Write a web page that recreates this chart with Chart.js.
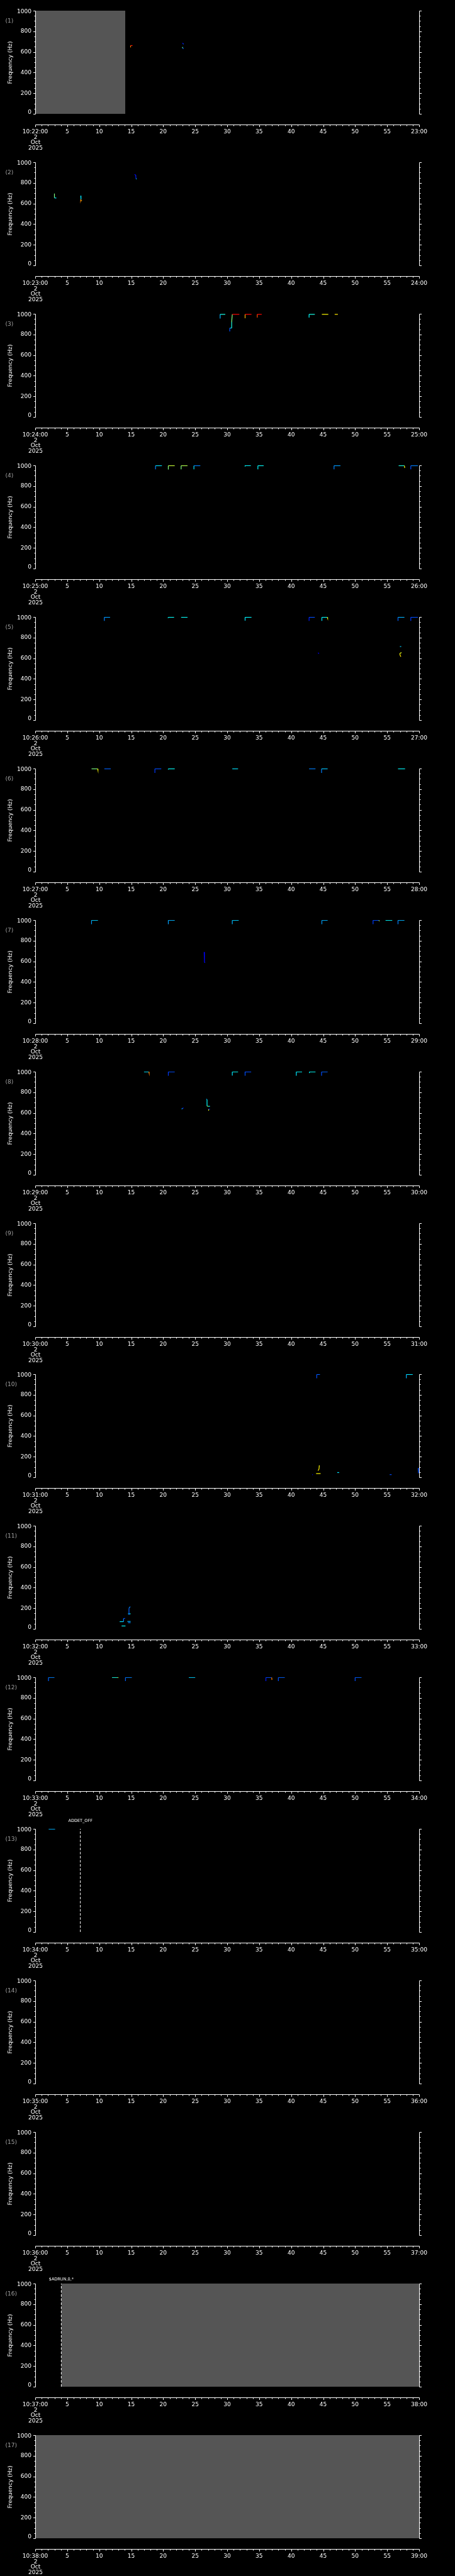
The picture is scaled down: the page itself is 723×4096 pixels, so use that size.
<!DOCTYPE html>
<html lang="en">
  <head>
    <meta charset="UTF-8" />
    <title>Frequency tracks, 2 Oct 2025</title>
  </head>
  <style>
    * {
      margin: 0;
      padding: 0;
    }
    body {
      background: #000;
      width: 723px;
      height: 4096px;
      overflow: hidden;
    }
    #panels {
      position: relative;
      width: 723px;
      height: 4096px;
    }
    #panels canvas {
      position: absolute;
      left: 0;
    }
  </style>
  <body>
    <div id="panels"></div>

    <script src="https://cdn.jsdelivr.net/npm/chart.js"></script>

    <script>
      // data block: one panel per minute, x in seconds, y in Hz
      const panelMinutes = [22, 23, 24, 25, 26, 27, 28, 29, 30, 31, 32, 33, 34, 35, 36, 37, 38];
      const yTicks = [0, 200, 400, 600, 800, 1000];
      const xTickSeconds = [0, 5, 10, 15, 20, 25, 30, 35, 40, 45, 50, 55, 60];
      const dateLines = ["2", "Oct", "2025"];

      // no-data spans: [panel index, from s, to s]
      const noData = [
        [0, 0, 14.08],
        [15, 4.07, 60],
        [16, 0, 60]
      ];
      // event markers: [panel index, s, text]
      const events = [
        [12, 7.05, "ADDET_OFF"],
        [15, 4.07, "$ADRUN,0,*"]
      ];

      // tracks: lists of [s, Hz, level 0..1]
      const tracks01 = [
        [[14.9, 644, 0.8], [14.9, 662, 0.75], [15.2, 662, 0.85]],
        [[23.0, 687, 0.15], [23.1, 680, 0.12], [23.2, 676, 0.2]],
        [[23.0, 648, 0.5], [23.05, 636, 0.45], [23.2, 632, 0.2]]
      ];
      const tracks02 = [
        [[3.0, 696, 0.55], [3.0, 655, 0.5], [3.3, 653, 0.35]],
        [[7.1, 676, 0.15], [7.15, 640, 0.35], [7.1, 628, 0.75], [7.3, 628, 0.7]],
        [[15.5, 880, 0.12], [15.7, 878, 0.12], [15.75, 840, 0.15], [15.85, 838, 0.35]]
      ];
      const tracks03 = [
        [[28.9, 955, 0.2], [28.9, 995, 0.3], [29.7, 995, 0.4]],
        [[30.4, 830, 0.15], [30.4, 862, 0.2], [30.7, 862, 0.3], [30.7, 920, 0.4], [30.8, 995, 0.5], [31.9, 995, 0.87]],
        [[32.8, 957, 0.65], [32.8, 995, 0.7], [33.8, 995, 0.87]],
        [[34.7, 963, 0.75], [34.7, 995, 0.8], [35.4, 995, 0.87]],
        [[42.8, 963, 0.35], [42.8, 995, 0.37], [43.7, 995, 0.4]],
        [[44.8, 995, 0.63], [45.8, 995, 0.63]],
        [[46.8, 995, 0.65], [47.3, 995, 0.65]]
      ];
      const tracks04 = [
        [[18.8, 962, 0.22], [18.8, 997, 0.25], [19.8, 997, 0.35]],
        [[20.8, 960, 0.4], [20.8, 997, 0.5], [21.8, 997, 0.57]],
        [[22.8, 962, 0.35], [22.8, 997, 0.5], [23.8, 997, 0.55]],
        [[24.8, 962, 0.3], [24.8, 997, 0.35], [25.8, 997, 0.25]],
        [[32.8, 990, 0.35], [32.8, 997, 0.37], [33.7, 997, 0.37]],
        [[34.8, 962, 0.3], [34.8, 997, 0.37], [35.7, 997, 0.38]],
        [[46.7, 962, 0.22], [46.7, 997, 0.25], [47.7, 997, 0.28]],
        [[56.8, 997, 0.35], [57.7, 997, 0.4], [57.75, 975, 0.63]],
        [[58.7, 962, 0.15], [58.7, 997, 0.2], [59.8, 997, 0.25]]
      ];
      const tracks05 = [
        [[10.8, 962, 0.22], [10.8, 997, 0.25], [11.7, 997, 0.28]],
        [[20.75, 990, 0.35], [20.8, 997, 0.37], [21.7, 997, 0.38]],
        [[22.8, 997, 0.37], [23.8, 997, 0.38]],
        [[32.8, 964, 0.3], [32.8, 997, 0.35], [33.8, 997, 0.37]],
        [[42.8, 962, 0.12], [42.8, 997, 0.15], [43.7, 997, 0.2]],
        [[44.8, 962, 0.25], [44.8, 997, 0.35], [45.65, 997, 0.38], [45.7, 987, 0.63]],
        [[56.7, 962, 0.18], [56.7, 997, 0.22], [57.7, 997, 0.3]],
        [[58.7, 962, 0.15], [58.7, 997, 0.18], [59.8, 997, 0.2]],
        [[57.0, 713, 0.3], [57.2, 713, 0.33]],
        [[44.2, 652, 0.1], [44.35, 645, 0.12]],
        [[57.25, 655, 0.45], [57.0, 648, 0.6], [57.0, 632, 0.63], [57.15, 614, 0.65]]
      ];
      const tracks06 = [
        [[8.8, 997, 0.4], [9.75, 997, 0.5], [9.8, 983, 0.63]],
        [[10.8, 997, 0.2], [11.8, 997, 0.22]],
        [[18.7, 957, 0.15], [18.7, 997, 0.18], [19.7, 997, 0.2]],
        [[20.8, 990, 0.35], [20.8, 997, 0.37], [21.8, 997, 0.38]],
        [[30.8, 997, 0.3], [31.7, 997, 0.35]],
        [[42.8, 997, 0.2], [43.8, 997, 0.25]],
        [[44.75, 957, 0.2], [44.75, 997, 0.25], [45.7, 997, 0.32]],
        [[56.7, 997, 0.35], [57.8, 997, 0.37]]
      ];
      const tracks07 = [
        [[8.8, 960, 0.2], [8.8, 998, 0.28], [9.8, 998, 0.33]],
        [[20.8, 960, 0.2], [20.8, 998, 0.28], [21.8, 998, 0.3]],
        [[30.8, 960, 0.2], [30.8, 998, 0.3], [31.8, 998, 0.33]],
        [[44.8, 960, 0.2], [44.8, 998, 0.28], [45.7, 998, 0.3]],
        [[52.8, 960, 0.15], [52.8, 998, 0.18], [53.7, 998, 0.2], [53.8, 990, 0.55]],
        [[54.75, 998, 0.37], [55.8, 998, 0.37]],
        [[56.7, 960, 0.18], [56.7, 998, 0.25], [57.7, 998, 0.3]],
        [[26.4, 690, 0.12], [26.45, 590, 0.12], [26.55, 588, 0.15]]
      ];
      const tracks08 = [
        [[17.0, 998, 0.3], [17.75, 998, 0.35], [17.8, 985, 0.75]],
        [[20.8, 960, 0.15], [20.8, 998, 0.18], [21.8, 998, 0.2]],
        [[30.8, 962, 0.2], [30.8, 998, 0.35], [31.7, 998, 0.38]],
        [[32.8, 960, 0.15], [32.8, 998, 0.2], [33.75, 998, 0.2]],
        [[40.8, 960, 0.3], [40.8, 998, 0.35], [41.7, 998, 0.37]],
        [[42.8, 990, 0.35], [42.85, 998, 0.37], [43.8, 998, 0.38]],
        [[44.75, 960, 0.15], [44.75, 998, 0.2], [45.7, 998, 0.22]],
        [[26.75, 735, 0.1], [26.85, 728, 0.3], [26.85, 666, 0.37], [27.0, 664, 0.6], [27.3, 664, 0.38]],
        [[27.1, 622, 0.63], [27.1, 636, 0.6], [27.3, 636, 0.15]],
        [[22.9, 637, 0.4], [23.0, 645, 0.3], [23.2, 648, 0.15]]
      ];
      const tracks09 = [];
      const tracks10 = [
        [[44.0, 961, 0.15], [44.0, 997, 0.2], [44.5, 997, 0.22]],
        [[58.0, 961, 0.2], [58.0, 997, 0.3], [59.0, 997, 0.35]],
        [[44.4, 116, 0.63], [44.35, 80, 0.63], [44.2, 64, 0.65]],
        [[43.9, 36, 0.75], [44.6, 36, 0.63]],
        [[43.3, 25, 0.12], [43.4, 25, 0.12]],
        [[47.2, 46, 0.35], [47.5, 46, 0.35]],
        [[55.4, 26, 0.2], [55.7, 26, 0.2]],
        [[59.85, 90, 0.3], [59.9, 40, 0.2]]
      ];
      const tracks11 = [
        [[14.6, 140, 0.2], [14.65, 200, 0.22], [14.85, 216, 0.25]],
        [[14.5, 146, 0.37], [14.9, 146, 0.37]],
        [[13.2, 70, 0.35], [13.8, 70, 0.35], [13.8, 100, 0.25], [14.05, 102, 0.2]],
        [[13.5, 28, 0.37], [14.1, 28, 0.37]],
        [[14.4, 72, 0.35], [14.9, 72, 0.3]],
        [[14.5, 60, 0.3], [14.9, 60, 0.25]]
      ];
      const tracks12 = [
        [[2.07, 963, 0.2], [2.07, 998, 0.22], [3.0, 998, 0.25]],
        [[12.0, 998, 0.37], [12.9, 998, 0.4], [13.0, 995, 0.6]],
        [[14.1, 963, 0.2], [14.1, 998, 0.22], [15.1, 998, 0.25]],
        [[24.0, 998, 0.3], [25.0, 998, 0.33]],
        [[36.05, 963, 0.12], [36.05, 998, 0.15], [36.95, 998, 0.2], [37.0, 975, 0.75]],
        [[38.0, 963, 0.15], [38.0, 998, 0.2], [39.0, 998, 0.22]],
        [[50.0, 963, 0.15], [50.0, 998, 0.2], [51.0, 998, 0.22]]
      ];
      const tracks13 = [
        [[2.1, 998, 0.3], [3.1, 998, 0.3]]
      ];
      const tracks14 = [];
      const tracks15 = [];
      const tracks16 = [];
      const tracks17 = [];
      const allTracks = [
        tracks01, tracks02, tracks03, tracks04, tracks05, tracks06, tracks07, tracks08, tracks09,
        tracks10, tracks11, tracks12, tracks13, tracks14, tracks15, tracks16, tracks17
      ];

      // layout (window pixels, per panel)
      const W = 723;
      const H = 241;
      const STEP = 4096 / 17;
      const FONT = '9px "DejaVu Sans"';
      const eventLabelY = [4.5, 10.6];

      // jet colour map for the level
      function jet(v) {
        const c = (t) => Math.round(255 * Math.max(0, Math.min(1, 1.5 - Math.abs(4 * v - t))));
        return `rgb(${c(3)},${c(2)},${c(1)})`;
      }

      // axes plugin, drawn IDL style from the chart's scales
      const idlAxes = {
        id: "idlAxes",
        afterDraw: (chart) => {
          const {
            ctx,
            scales: { x, y }
          } = chart;
          const o = chart.options.plugins.idlAxes;
          const L = Math.round(x.getPixelForValue(0)) + 0.5;
          const R = Math.round(x.getPixelForValue(60)) + 0.5;
          const yTop = Math.round(y.getPixelForValue(1000)) + 0.5;
          const yBot = Math.round(y.getPixelForValue(0)) + 0.5;
          const AX = 198.5;

          ctx.save();
          ctx.strokeStyle = "#fff";
          ctx.fillStyle = "#fff";
          ctx.lineWidth = 1;

          // y axes, left and right, ticks outward
          ctx.beginPath();
          ctx.moveTo(L, yTop);
          ctx.lineTo(L, yBot);
          ctx.moveTo(R, yTop);
          ctx.lineTo(R, yBot);
          for (let v = 0; v <= 1000; v += 50) {
            const py = Math.round(y.getPixelForValue(v)) + 0.5;
            const len = v % 200 === 0 ? 3.5 : 2;
            ctx.moveTo(L, py);
            ctx.lineTo(L - len, py);
            ctx.moveTo(R, py);
            ctx.lineTo(R + len, py);
          }
          // x axis, below the plot, ticks down
          ctx.moveTo(L, AX);
          ctx.lineTo(R, AX);
          for (let s = 0; s <= 60; s++) {
            const px = Math.round(x.getPixelForValue(s)) + 0.5;
            ctx.moveTo(px, AX);
            ctx.lineTo(px, AX + (s % 5 === 0 ? 3.5 : 2));
          }
          ctx.stroke();

          ctx.font = FONT;
          ctx.textBaseline = "middle";

          // y tick labels
          ctx.textAlign = "right";
          yTicks.forEach((v) => {
            let py = y.getPixelForValue(v);
            if (v === 1000) py += 2;
            if (v === 0) py -= 2.5;
            ctx.fillText(String(v), 50, py);
          });

          // x tick labels
          ctx.textAlign = "center";
          xTickSeconds.forEach((s) => {
            let label = String(s);
            if (s === 0) label = `10:${o.minute}:00`;
            if (s === 60) label = `${o.minute + 1}:00`;
            ctx.fillText(label, x.getPixelForValue(s), 210);
          });
          dateLines.forEach((t, k) => {
            ctx.fillText(t, L, 218.6 + k * 8.45);
          });

          // axis title
          ctx.save();
          ctx.translate(16.4, (yTop + yBot) / 2);
          ctx.rotate(-Math.PI / 2);
          ctx.fillText("Frequency (Hz)", 0, 0);
          ctx.restore();

          // panel number
          ctx.fillStyle = "#a0a0a0";
          ctx.textAlign = "left";
          ctx.fillText(`(${o.index + 1})`, 8.5, 33.3);

          // event labels
          ctx.fillStyle = "#fff";
          ctx.textAlign = "center";
          ctx.font = '6.5px "DejaVu Sans"';
          events.forEach((e, k) => {
            if (e[0] !== o.index) return;
            ctx.fillText(e[2], x.getPixelForValue(e[1]), eventLabelY[k]);
          });

          ctx.restore();
        }
      };

      // init render block
      const root = document.getElementById("panels");
      panelMinutes.forEach((minute, i) => {
        const cv = document.createElement("canvas");
        cv.width = W;
        cv.height = H;
        cv.style.width = W + "px";
        cv.style.height = H + "px";
        cv.style.top = Math.round(i * STEP) + "px";
        root.appendChild(cv);

        const datasets = [];
        allTracks[i].forEach((tr) => {
          datasets.push({
            data: tr.map((p) => ({ x: p[0], y: p[1] })),
            borderColor: jet(tr[0][2]),
            segment: {
              borderColor: (c) => jet(tr[c.p1DataIndex][2])
            },
            borderWidth: 1.2,
            pointRadius: 0,
            tension: 0,
            fill: false,
            order: 0
          });
        });
        noData
          .filter((g) => g[0] === i)
          .forEach((g) => {
            datasets.push({
              data: [
                { x: g[1], y: 1000 },
                { x: g[2], y: 1000 }
              ],
              borderWidth: 0,
              borderColor: "rgba(0,0,0,0)",
              backgroundColor: "#555555",
              fill: "origin",
              pointRadius: 0,
              order: 5
            });
          });
        events
          .filter((e) => e[0] === i)
          .forEach((e) => {
            datasets.push({
              data: [
                { x: e[1], y: 0 },
                { x: e[1], y: 1000 }
              ],
              borderColor: "#ffffff",
              borderWidth: 1,
              borderDash: [4, 2.5],
              pointRadius: 0,
              fill: false,
              order: 1
            });
          });

        new Chart(cv, {
          type: "line",
          data: { datasets },
          options: {
            responsive: false,
            animation: false,
            devicePixelRatio: 1,
            layout: {
              padding: { left: 56, right: W - 666, top: 17, bottom: H - 181 }
            },
            plugins: {
              legend: { display: false },
              tooltip: { enabled: false },
              idlAxes: { minute, index: i }
            },
            scales: {
              x: { type: "linear", min: 0, max: 60, display: false },
              y: { type: "linear", min: 0, max: 1000, display: false }
            }
          },
          plugins: [idlAxes]
        });
      });
    </script>
  </body>
</html>
